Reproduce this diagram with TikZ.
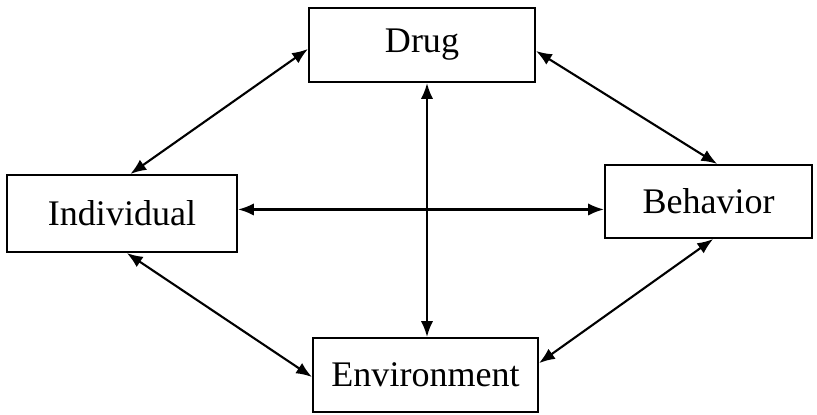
\documentclass[tikz,border=0pt]{standalone}
\usepackage{fontspec}
\setmainfont{Liberation Serif}
\usetikzlibrary{arrows.meta,calc}

\begin{document}
\begin{tikzpicture}[x=0.02cm,y=-0.02cm,
  factor/.style={draw,line width=1.2pt,inner sep=0pt,font=\fontsize{20.5}{24}\selectfont},
  link/.style={line width=1.2pt,{Latex[length=9pt,width=7pt]}-{Latex[length=9pt,width=7pt]}}]
\useasboundingbox (0,0) rectangle (817,414);

\node[factor,minimum width=226*0.02cm,minimum height=74*0.02cm] (drug) at (422,45) {Drug};
\node[factor,minimum width=230*0.02cm,minimum height=77*0.02cm] (indiv) at (122,213.5) {Individual};
\node[factor,minimum width=207*0.02cm,minimum height=73*0.02cm] (behav) at (708.5,201.5) {Behavior};
\node[factor,minimum width=225*0.02cm,minimum height=74*0.02cm] (envir) at (425.5,375) {Environment};

\coordinate (dbot) at ($(drug.south)+(5,0)$);

\draw[link] (indiv.78) -- (drug.182.5);
\draw[link] (drug.357.5) -- (behav.77);
\draw[link] (indiv.2) -- (indiv.2 -| behav.west);
\draw[link] (dbot) -- (dbot |- envir.north);
\draw[link] (indiv.277.4) -- (envir.181.5);
\draw[link] (behav.277) -- (envir.6.6);
\end{tikzpicture}
\end{document}
